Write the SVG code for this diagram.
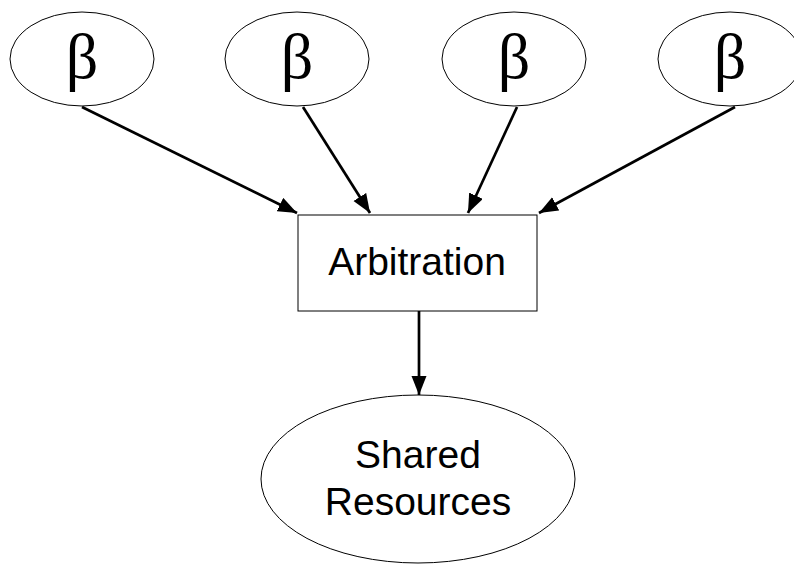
<svg xmlns="http://www.w3.org/2000/svg" width="794" height="564" viewBox="0 0 794 564">
<style>
.n{fill:#fff;stroke:#000;stroke-width:1}
.b{font-family:"Liberation Serif","Times New Roman",serif;font-size:64px;text-anchor:middle}
.t{font-family:"Liberation Sans",Arial,sans-serif;font-size:39px;text-anchor:middle}
.c{stroke:#000;stroke-width:2.7;fill:none;marker-end:url(#ah)}
</style>
<defs>
<marker id="ah" markerUnits="userSpaceOnUse" markerWidth="22" markerHeight="16" refX="19" refY="7.5" orient="auto">
<path d="M0,0 L19,7.5 L0,15 z" fill="#000"/>
</marker>
</defs>
<rect width="794" height="564" fill="#fff"/>
<g id="connectors">
<line class="c" x1="82" y1="107" x2="297" y2="213"/>
<line class="c" x1="303" y1="107" x2="370" y2="213"/>
<line class="c" x1="517" y1="107" x2="468" y2="213"/>
<line class="c" x1="735" y1="107" x2="539" y2="213"/>
<line class="c" x1="419" y1="311" x2="419" y2="395"/>
</g>
<g id="beta1"><ellipse class="n" cx="82" cy="59" rx="72" ry="47"/><text class="b" x="82" y="78">β</text></g>
<g id="beta2"><ellipse class="n" cx="297" cy="59" rx="72" ry="47"/><text class="b" x="297" y="78">β</text></g>
<g id="beta3"><ellipse class="n" cx="514" cy="59" rx="72" ry="47"/><text class="b" x="514" y="78">β</text></g>
<g id="beta4"><ellipse class="n" cx="730" cy="59" rx="72" ry="47"/><text class="b" x="730" y="78">β</text></g>
<g id="arbitration"><rect class="n" x="298" y="215" width="239" height="96"/><text class="t" x="417" y="275">Arbitration</text></g>
<g id="shared"><ellipse class="n" cx="418" cy="479" rx="157" ry="84"/><text class="t" x="418" y="468">Shared</text><text class="t" x="418" y="515">Resources</text></g>
</svg>
